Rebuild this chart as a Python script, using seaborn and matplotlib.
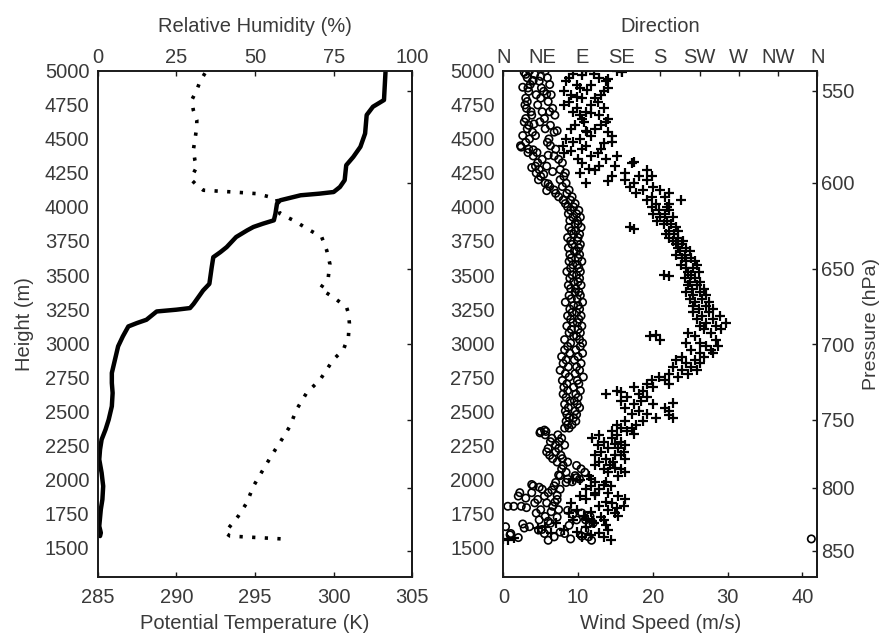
import matplotlib
matplotlib.use("Agg")
import matplotlib.pyplot as plt
import numpy as np
import pandas as pd
import seaborn as sns

# ---------------- data ----------------
theta_h = [5000, 4786, 4737, 4676, 4540, 4442, 4368, 4307, 4197, 4147, 4110, 4098, 4086, 4049,
           4025, 3951, 3902, 3877, 3853, 3828, 3779, 3705, 3668, 3631, 3558, 3435, 3386, 3288,
           3257, 3245, 3232, 3171, 3147, 3122, 3049, 2976, 2878, 2780, 2706, 2633, 2535, 2437,
           2364, 2290, 2217, 2144, 2046, 1948, 1850, 1777, 1654, 1605, 1581]
theta_k = [303.3, 303.2, 302.5, 302.1, 302.0, 301.7, 301.25, 300.8, 300.7, 300.4, 300.0, 299.1,
           297.9, 296.6, 296.4, 296.3, 296.2, 295.5, 294.9, 294.5, 293.8, 293.2, 292.8, 292.35,
           292.25, 292.1, 291.7, 291.1, 290.87, 290.0, 288.75, 288.1, 287.5, 286.95, 286.6, 286.3,
           286.1, 285.9, 285.9, 285.95, 285.9, 285.7, 285.5, 285.25, 285.15, 285.1, 285.25, 285.35,
           285.3, 285.2, 285.1, 285.2, 285.15]

rh_h = [4983, 4921, 4860, 4786, 4712, 4639, 4590, 4491, 4418, 4344, 4295, 4246, 4197, 4160, 4123,
        4110, 4098, 4061, 3951, 3902, 3828, 3779, 3681, 3582, 3484, 3398, 3337, 3263, 3220, 3147,
        3049, 2951, 2878, 2731, 2633, 2511, 2388, 2290, 2193, 2070, 1948, 1826, 1728, 1654, 1605,
        1581, 1569, 1557]
rh_pct = [34.1, 32.5, 31.5, 29.9, 30.4, 31.5, 31.5, 30.9, 30.4, 30.9, 31.5, 30.4, 29.9, 31.5, 33.6,
          43.1, 50.5, 56.9, 57.9, 62.2, 67.5, 71.2, 72.8, 73.8, 73.3, 70.7, 74.9, 79.1, 79.7, 80.0,
          79.7, 78.1, 74.9, 70.7, 66.4, 63.2, 61.1, 58.5, 55.8, 52.6, 49.5, 47.4, 44.7, 42.1, 40.5,
          42.1, 51.6, 61.1]

wind_levels = [5000, 4975, 4950, 4925, 4900, 4875, 4850, 4825, 4800,
               4775, 4750, 4725, 4700, 4675, 4650, 4625, 4600, 4575, 4550, 4525, 4500,
               4475, 4450, 4425, 4400, 4375, 4350, 4325, 4300, 4275, 4250,
               4225, 4200, 4175, 4150, 4125, 4100, 4075, 4050, 4025, 4000,
               3975, 3950, 3925, 3900, 3875, 3850, 3825, 3800, 3775, 3750,
               3725, 3700, 3675, 3650, 3625, 3600, 3575, 3550, 3525, 3500,
               3475, 3450, 3425, 3400, 3375, 3350, 3325, 3300, 3275, 3250,
               3225, 3200, 3175, 3150, 3125, 3100, 3075, 3050, 3025, 3000,
               2975, 2950, 2925, 2900, 2875, 2850, 2825, 2800, 2775, 2750,
               2725, 2700, 2675, 2650, 2625, 2600, 2575, 2550, 2525, 2500,
               2475, 2450, 2425, 2400,
               2375, 2350, 2325, 2300, 2275, 2250, 2225, 2200, 2175, 2150,
               2125, 2100, 2075, 2050, 2025, 2000,
               1975, 1950, 1925, 1900, 1875, 1850, 1825, 1800, 1775, 1750,
               1725, 1700, 1675, 1650, 1625, 1600, 1575, 1550]

speed_a = [3.5, 4.2, 3.2, 4.8, 3.6, 5.1, 3.4, 4.4, 3.0,
           3.2, 4.6, 3.1, 5.2, 3.8, 3.0, 4.9, 3.4, 5.6, 3.9, 4.3, 3.5,
           3.0, 2.3, 3.4, 4.5, 4.0, 5.2, 4.6, 5.8, 4.8, 4.4,
           5.0, 4.7, 5.6, 6.2, 6.8, 7.0, 7.4, 8.0, 8.3, 8.6,
           9.0, 8.7, 9.3, 8.9, 9.6, 8.8, 9.1, 9.4, 8.6, 9.0,
           9.2, 8.7, 9.5, 8.9, 9.1, 8.8, 9.3, 9.0, 8.5, 9.2,
           8.9, 9.4, 8.7, 9.0, 9.6, 8.8, 9.1, 8.3, 9.4, 8.9,
           9.2, 8.6, 9.0, 9.3, 8.5, 9.1, 8.8, 9.4, 8.2, 9.0,
           8.6, 8.2, 8.9, 7.8, 8.4, 8.0, 8.7, 7.6, 8.3, 8.8,
           7.9, 8.5, 8.1, 8.6, 8.0, 8.4, 8.9, 8.2, 8.7, 8.3,
           8.5, 8.8, 8.4, 8.6,
           8.2, 5.0, 5.6, 6.5, 6.3, 7.0, 6.0, 5.8, 6.2, 6.6,
           7.2, 8.0, 7.8, 8.4, 7.6, 8.6,
           7.0, 4.0, 5.2, 3.8, 2.0, 4.6, 5.8, 0.6, 5.0, 4.4,
           5.6, 4.8, 6.3, 0.3, 4.7, 5.5, 6.8, 6.0]
speed_b = [5.6, 3.0, 5.9, 3.9, 6.2, 3.3, 5.4, 6.4, 5.0,
           6.0, 2.9, 6.6, 3.7, 6.9, 5.5, 2.8, 6.3, 3.2, 6.8, 2.6, 6.1,
           5.9, 6.3, 7.0, 3.3, 6.8, 7.4, 7.9, 4.3, 7.6, 8.3,
           8.1, 7.6, 8.4, 7.9, 8.8, 8.5, 9.2, 9.0, 9.6, 9.4,
           10.1, 9.8, 10.3, 9.9, 10.0, 10.4, 9.7, 10.2, 10.0, 9.9,
           10.3, 10.1, 9.8, 10.2, 10.0, 10.5, 9.9, 10.1, 10.3, 9.8,
           10.2, 10.0, 10.4, 9.7, 10.1, 10.3, 9.9, 10.6, 10.0, 10.2,
           9.8, 10.4, 10.1, 9.9, 10.5, 10.0, 10.3, 9.8, 10.2, 10.6,
           10.3, 9.7, 10.6, 10.0, 9.5, 10.4, 9.8, 10.2, 9.6, 10.7,
           9.9, 10.1, 9.4, 10.3, 9.7, 10.0, 9.5, 9.9, 10.2, 9.6,
           9.8, 9.4, 9.7, 9.2,
           8.8, 5.7, 7.3, 7.8, 7.5, 8.2, 7.4, 7.0, 7.7, 7.9,
           8.6, 9.8, 10.4, 10.9, 9.6, 10.2,
           8.4, 6.8, 7.6, 6.0, 5.5, 7.2, 4.2, 6.6, 7.4, 10.5,
           11.6, 9.8, 12.0, 3.5, 10.9, 8.2, 11.4, 11.8]

dir_a = [95, 80, 110, 72, 100, 88, 115, 78, 105,
         75, 100, 85, 95, 110, 90, 118, 82, 105, 96, 125, 88,
         80, 95, 112, 70, 100, 118, 90, 128, 105, 88,
         125, 140, 95, 145, 160, 152, 170, 165, 175, 170,
         178, 185, 180, 188, 192, 145, 190, 196, 200, 194,
         205, 210, 202, 208, 215, 210, 204, 218, 212, 184,
         220, 214, 222, 216, 225, 218, 228, 220, 232, 224,
         236, 228, 240, 232, 244, 230, 212, 168, 180, 225,
         232, 215, 225, 205, 220, 210, 195, 205, 190, 178,
         185, 165, 150, 130, 118, 142, 135, 150, 140, 155,
         148, 175, 140, 130,
         135, 125, 110, 102, 115, 108, 120, 112, 105, 118,
         110, 105, 115, 120, 98, 80,
         105, 100, 110, 120, 88, 95, 78, 110, 85, 75,
         92, 80, 60, 48, 70, 55, 90, 5]
dir_b = [130, 104, 75, 118, 84, 120, 70, 112, 90,
         108, 70, 115, 80, 88, 120, 92, 112, 78, 120, 100, 72,
         125, 68, 90, 108, 130, 86, 148, 110, 165, 140,
         155, 165, 150, 172, 180, 190, 185, 204, 190, 188,
         190, 172, 195, 176, 184, 198, 200, 186, 190, 206,
         198, 200, 214, 198, 205, 220, 222, 210, 224, 215,
         208, 226, 212, 230, 210, 232, 214, 236, 218, 240,
         218, 248, 222, 255, 226, 250, 238, 220, 244, 210,
         246, 238, 240, 230, 198, 226, 215, 222, 212, 200,
         170, 190, 172, 160, 155, 165, 158, 172, 185, 190,
         165, 195, 160, 152,
         148, 142, 130, 125, 135, 140, 132, 138, 128, 140,
         126, 122, 135, 140, 132, 100,
         118, 124, 95, 105, 132, 140, 125, 138, 120, 128,
         132, 115, 104, 95, 120, 110, 115, 124]

extra_speed_h = [4990, 4960, 4930, 4880, 4830, 4700, 4610, 4560, 4440, 4420,
                 4380, 4290, 4260, 4240, 4170, 4120, 1980, 1960, 1940, 1920,
                 1900, 1880, 1860, 1830, 1800, 1800, 1790, 1770, 1760, 1740,
                 1720, 1700, 1690, 1670, 1660, 1640, 1630, 1610, 1600, 1590,
                 1580, 1570, 1560, 1560, 2030, 2010, 2340, 2360]
extra_speed = [2.8, 5.0, 4.0, 2.6, 5.8, 6.2, 4.1, 7.2, 2.4, 4.0,
               6.0, 3.8, 6.6, 5.4, 6.0, 5.8, 9.2, 3.8, 4.8, 6.5,
               2.2, 7.2, 3.0, 6.9, 1.4, 2.4, 3.1, 8.6, 6.4, 9.3,
               7.2, 11.0, 6.0, 2.6, 8.8, 2.8, 5.2, 7.6, 1.0, 0.9,
               10.5, 2.0, 9.0, 41.2, 7.4, 9.8, 4.9, 5.5]

extra_dir_h = [4990, 4970, 4940, 4860, 4810, 4690, 4560, 4470, 4410, 4330,
               4280, 4230, 4190, 3840, 3490, 3060, 2640, 2560, 2470, 2330,
               2260, 2180, 2080, 1990, 1960, 1880, 1830, 1790, 1760, 1720,
               1705, 1690, 1660, 1640, 1610, 1590, 1565, 1560]
extra_dir = [136, 90, 120, 96, 85, 100, 95, 115, 78, 150,
             98, 170, 120, 150, 190, 175, 135, 195, 190, 150,
             128, 135, 128, 88, 115, 105, 118, 130, 100, 112,
             95, 102, 118, 40, 85, 100, 12, 0]

height_ticks = [1500, 1750, 2000, 2250, 2500, 2750, 3000, 3250, 3500, 3750, 4000, 4250, 4500, 4750, 5000]
theta_ticks = [285, 290, 295, 300, 305]
rh_ticks = [0, 25, 50, 75, 100]
speed_ticks = [0, 10, 20, 30, 40]
dir_ticks = [0, 45, 90, 135, 180, 225, 270, 315, 360]
dir_labels = ["N", "NE", "E", "SE", "S", "SW", "W", "NW", "N"]
press_labels = [550, 600, 650, 700, 750, 800, 850]
press_heights = [4855, 4177, 3546, 2990, 2437, 1935, 1472]

# ---------------- style ----------------
sns.set_style("white")
TXT = "#3a3a3a"
FS = 14.5
plt.rcParams["font.family"] = ["Liberation Sans", "DejaVu Sans"]
plt.rcParams["font.size"] = FS
plt.rcParams["text.color"] = TXT
plt.rcParams["axes.labelcolor"] = TXT
plt.rcParams["axes.edgecolor"] = "#1a1a1a"
plt.rcParams["axes.linewidth"] = 1.2

fig = plt.figure(figsize=(8.88, 6.35), dpi=100)
ax1 = fig.add_axes([0.110, 0.0913, 0.3543, 0.797])
ax2 = fig.add_axes([0.5668, 0.0913, 0.3536, 0.797])

YMIN, YMAX = 1280, 5000

def tstyle(ax, **kw):
    ax.tick_params(direction="in", length=3.5, width=1, color="#1a1a1a",
                   labelcolor=TXT, labelsize=FS, **kw)

# ---- left panel ----
theta_df = pd.DataFrame({"theta": theta_k, "h": theta_h})
sns.lineplot(data=theta_df, x="theta", y="h", sort=False, estimator=None,
             color="black", linewidth=3.2, ax=ax1)
ax1.set_xlim(285, 305)
ax1.set_ylim(YMIN, YMAX)
ax1.set_xticks(theta_ticks)
ax1.set_yticks(height_ticks)
ax1.set_xlabel("Potential Temperature (K)", labelpad=5)
ax1.set_ylabel("Height (m)", labelpad=8)
tstyle(ax1, top=False, right=False)
ax1.tick_params(axis="x", pad=8)
ax1.tick_params(axis="y", pad=6)

ax1t = ax1.twiny()
rh_df = pd.DataFrame({"rh": rh_pct, "h": rh_h})
sns.lineplot(data=rh_df, x="rh", y="h", sort=False, estimator=None,
             color="black", linewidth=2.6, linestyle=(0, (0.9, 2.6)), ax=ax1t)
ax1t.set_xlim(0, 100)
ax1t.set_xticks(rh_ticks)
ax1t.set_xlabel("Relative Humidity (%)", labelpad=11)
ax1t.set_ylabel("")
tstyle(ax1t, bottom=False)
ax1t.tick_params(axis="x", pad=3)

sec1 = ax1.secondary_yaxis("right")
sec1.set_yticks(press_heights)
sec1.set_yticklabels([""] * len(press_heights))
tstyle(sec1)

# ---- right panel ----
spd_df = pd.DataFrame({"h": wind_levels + wind_levels + extra_speed_h,
                       "speed": speed_a + speed_b + extra_speed})
dir_df = pd.DataFrame({"h": wind_levels + wind_levels + extra_dir_h,
                       "dir": dir_a + dir_b + extra_dir})

sns.scatterplot(data=spd_df, x="speed", y="h", marker="o", s=28,
                facecolor="none", edgecolor="black", linewidth=1.2, ax=ax2)
ax2.set_xlim(0, 42)
ax2.set_ylim(YMIN, YMAX)
ax2.set_xticks(speed_ticks)
ax2.set_yticks(height_ticks)
ax2.set_xlabel("Wind Speed (m/s)", labelpad=5)
ax2.set_ylabel("")
tstyle(ax2, top=False, right=False)
ax2.tick_params(axis="x", pad=8)
ax2.tick_params(axis="y", pad=6)

ax2t = ax2.twiny()
sns.scatterplot(data=dir_df, x="dir", y="h", marker="+", s=50,
                color="black", linewidth=1.6, ax=ax2t)
ax2t.set_xlim(0, 360)
ax2t.set_xticks(dir_ticks)
ax2t.set_xticklabels(dir_labels)
ax2t.set_xlabel("Direction", labelpad=11)
ax2t.set_ylabel("")
tstyle(ax2t, bottom=False)
ax2t.tick_params(axis="x", pad=3)

sec2 = ax2.secondary_yaxis("right")
sec2.set_yticks(press_heights)
sec2.set_yticklabels([str(p) for p in press_labels])
sec2.set_ylabel("Pressure (hPa)", labelpad=6, fontsize=14)
tstyle(sec2)
sec2.tick_params(pad=3)

fig.savefig("out.png", dpi=100)
